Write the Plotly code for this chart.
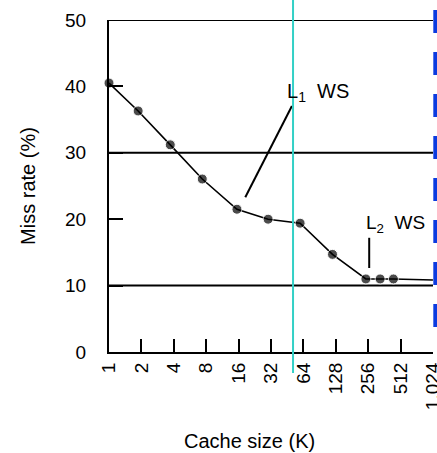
import math
import plotly.graph_objects as go

# Data
cache_size_k = [1.0, 1.866, 3.71, 7.36, 15.45, 30.1, 59.7, 119.4, 243.8, 330.8, 439.5, 1024]
miss_rate = [40.5, 36.3, 31.2, 26.05, 21.5, 20.0, 19.4, 14.7, 11.0, 11.0, 11.0, 10.85]
marker_sizes = [10] * 11 + [0]

tick_vals = [1, 2, 4, 8, 16, 32, 64, 128, 256, 512, 1024]
tick_text = ["1", "2", "4", "8", "16", "32", "64", "128", "256", "512", "1,024"]
y_ticks = [0, 10, 20, 30, 40, 50]
grid_rates = [10, 30, 50]

# Reference / annotation lines (paper fractions for the two marker lines)
cyan_line = dict(x=0.568, y0=1.06, y1=-0.063)
blue_line = dict(x=1.0102, y0=1.030, y1=0.0753)
l1_ptr_x = [50.1, 18.47]
l1_ptr_y = [37.05, 23.3]
l2_ptr_x = [261.8, 261.8]
l2_ptr_y = [17.2, 12.65]

FONT = "Liberation Sans, Arial, sans-serif"

fig = go.Figure()

fig.add_trace(go.Scatter(
    x=cache_size_k, y=miss_rate, mode="lines+markers",
    line=dict(color="black", width=1.6),
    marker=dict(color="black", size=marker_sizes),
    cliponaxis=False, showlegend=False, hoverinfo="skip"))

fig.add_trace(go.Scatter(
    x=l1_ptr_x, y=l1_ptr_y, mode="lines",
    line=dict(color="black", width=2), cliponaxis=False,
    showlegend=False, hoverinfo="skip"))
fig.add_trace(go.Scatter(
    x=l2_ptr_x, y=l2_ptr_y, mode="lines",
    line=dict(color="black", width=2), cliponaxis=False,
    showlegend=False, hoverinfo="skip"))

fig.add_shape(type="line", xref="paper", yref="paper",
              x0=cyan_line["x"], x1=cyan_line["x"],
              y0=cyan_line["y0"], y1=cyan_line["y1"],
              line=dict(color="#33d0c6", width=2))
fig.add_shape(type="line", xref="paper", yref="paper",
              x0=blue_line["x"], x1=blue_line["x"],
              y0=blue_line["y0"], y1=blue_line["y1"],
              line=dict(color="#0b3be0", width=6, dash="23px,19px"))

for g in grid_rates:
    fig.add_shape(type="line", xref="paper", yref="y", x0=0, x1=1, y0=g, y1=g,
                  line=dict(color="black", width=2), layer="below")

fig.add_annotation(x=math.log10(42.8), y=39.1, xref="x", yref="y",
                   text="L<sub>1</sub>&nbsp; WS", showarrow=False,
                   xanchor="left", yanchor="middle",
                   font=dict(family=FONT, size=20, color="black"))
fig.add_annotation(x=math.log10(236), y=19.3, xref="x", yref="y",
                   text="L<sub>2</sub>&nbsp; WS", showarrow=False,
                   xanchor="left", yanchor="middle",
                   font=dict(family=FONT, size=19, color="black"))
fig.add_annotation(x=0.433, y=-0.268, xref="paper", yref="paper",
                   text="Cache size (K)", showarrow=False,
                   xanchor="center", yanchor="middle",
                   font=dict(family=FONT, size=20, color="black"))

fig.update_xaxes(type="log", range=[0, math.log10(1024) * 1.0002],
                 tickvals=tick_vals, ticktext=tick_text, tickangle=-90,
                 ticks="inside", ticklen=13, tickwidth=2, tickcolor="black",
                 showline=True, linewidth=2, linecolor="black",
                 showgrid=False, zeroline=False, ticklabelstandoff=1,
                 ticklabeloverflow="allow",
                 tickfont=dict(family=FONT, size=19, color="black"))
fig.update_yaxes(range=[0, 50], tickvals=y_ticks,
                 ticks="inside", ticklen=14, tickwidth=2, tickcolor="black",
                 showline=True, linewidth=2, linecolor="black",
                 showgrid=False, zeroline=False, ticklabelstandoff=17,
                 tickfont=dict(family=FONT, size=19, color="black"),
                 title=dict(text="Miss rate (%)", standoff=24,
                            font=dict(family=FONT, size=20, color="black")))

fig.update_layout(width=437, height=453,
                  margin=dict(l=109, r=4, t=20, b=101, autoexpand=False),
                  plot_bgcolor="white", paper_bgcolor="white",
                  showlegend=False)

fig.write_html("out.html")
